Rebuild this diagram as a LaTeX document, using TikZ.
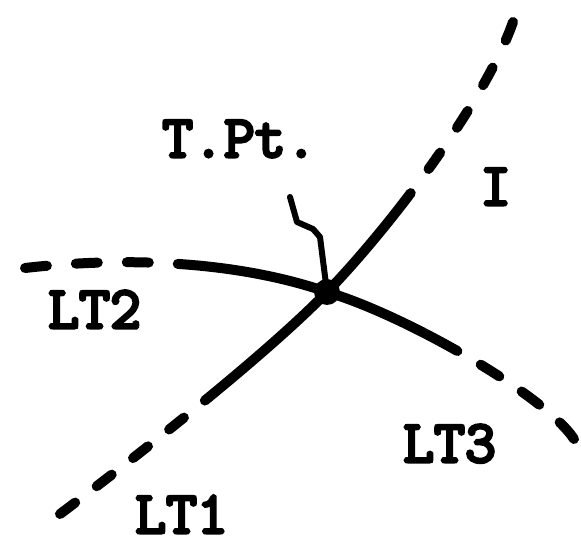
\documentclass[tikz,border=0pt]{standalone}
\usepackage{fontspec}
\newfontfamily\typefont{Latin Modern Mono}[FakeBold=5]
\usetikzlibrary{positioning}

\tikzset{
  branch/.style={line width=10pt,line cap=round},
  lead4/.style 2 args={dash pattern=on #1 off #2 on #1 off #2 on #1 off #2 on #1 off #2 on 600pt off 1pt},
  lead3/.style 2 args={dash pattern=on #1 off #2 on #1 off #2 on #1 off #2 on 600pt off 1pt},
  lbl/.style={font=\typefont\fontsize{60}{60}\selectfont,anchor=base west,inner sep=0pt},
}

\begin{document}
\begin{tikzpicture}[x=1pt,y=-1pt]
  \useasboundingbox (0,0) rectangle (581,545);
  % touching point and the free ends of the four branches
  \coordinate (tpt) at (327,292);
  \coordinate (iLow) at (60,514);
  \coordinate (iUp) at (513,22);
  \coordinate (ltTwo) at (25,268);
  \coordinate (ltThree) at (574,439);

  % curve I, lower and upper halves
  \draw[branch,lead4={19pt}{27pt}] (iLow) .. controls (127,464) and (264,357) .. (tpt);
  \draw[branch,lead4={20pt}{30pt}] (iUp) .. controls (485,102) and (390,227) .. (tpt);
  % LT2 and LT3
  \draw[branch,lead3={22pt}{29pt}] (ltTwo) .. controls (130,256) and (240,262) .. (tpt);
  \draw[branch,lead3={22pt}{27pt}] (ltThree) .. controls (545,395) and (405,315) .. (tpt);
  \fill (tpt) circle (13pt);

  \node[lbl] (tptlbl) at (162,157) {T.Pt.};
  \coordinate (tail) at (290,197);
  \draw[line width=6pt,line cap=round,line join=round]
    (tail) -- (297,222) -- (313,229) -- (320,237) -- (tpt);

  \node[lbl] (lblI) at (480,205) {I};
  \node[lbl] (lblTwo) at (48,328) {LT2};
  \node[lbl] (lblThree) at (403,462) {LT3};
  \node[lbl] (lblOne) at (135,533) {LT1};
\end{tikzpicture}
\end{document}
